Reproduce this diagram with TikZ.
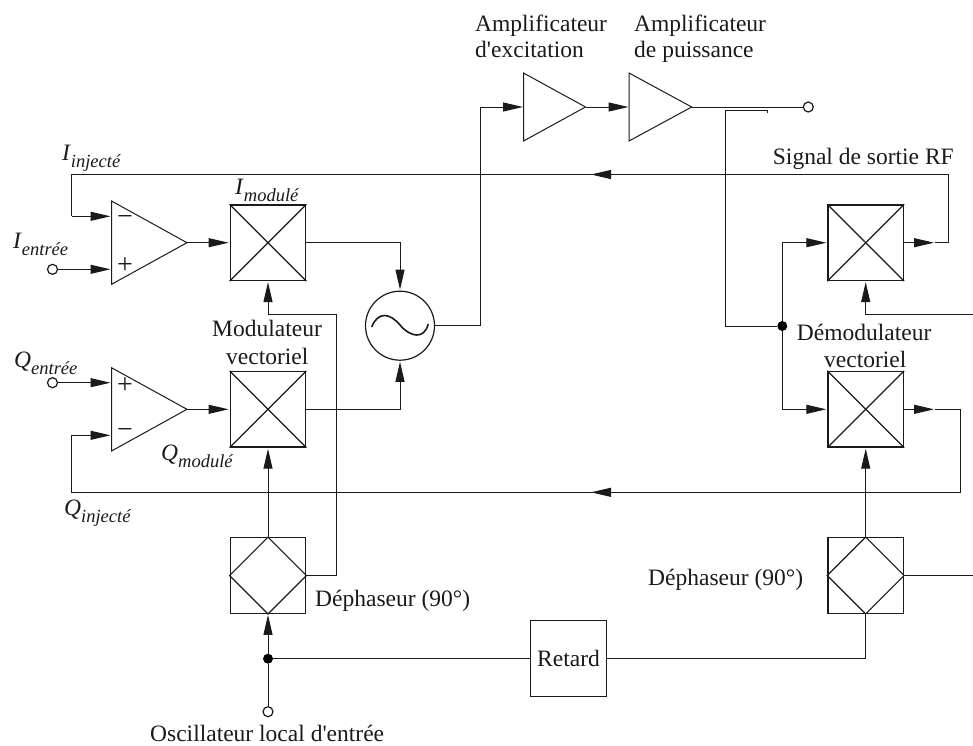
\documentclass[tikz,border=0pt]{standalone}
\usepackage{fontspec}
\setmainfont{Liberation Serif}[Ligatures=TeXOff]
\usetikzlibrary{arrows.meta,shapes.geometric,calc}
\definecolor{ink}{HTML}{1A1A1A}
\newcommand{\subs}[2]{\textit{#1}\raisebox{-7pt}{\fontsize{18.5}{20}\selectfont\textit{#2}}}
\tikzset{
  x=1pt,y=-1pt,
  every node/.style={font=\fontsize{23.5}{26}\selectfont,text=ink},
  wire/.style={draw=ink,line width=1pt},
  arrow/.style={wire,shorten >=1pt,-{Triangle[length=20pt,width=9pt]}},
  mixbox/.style={draw=ink,line width=1.3pt,minimum size=75.5pt,inner sep=0pt},
  delaybox/.style={draw=ink,line width=1pt,minimum size=75.5pt,inner sep=0pt},
  port/.style={circle,draw=ink,fill=white,line width=1.2pt,minimum size=10pt,inner sep=0pt},
  dot/.style={circle,fill=black,minimum size=10pt,inner sep=0pt},
  osc/.style={circle,draw=ink,line width=1.2pt,minimum size=69pt,inner sep=0pt},
  lab/.style={anchor=base west,inner sep=0pt},
  sign/.style={inner sep=0pt,font=\fontsize{28}{28}\selectfont},
  tri/.style={draw=ink,line width=1pt,line join=miter},
  diag/.style={draw=ink,line width=1.2pt}
}
\begin{document}
\begin{tikzpicture}
\useasboundingbox (0,0) rectangle (973,745);
% boxes
\node[mixbox] (m1) at (268,242.7) {};
\node[mixbox] (m2) at (268,409.3) {};
\node[mixbox] (d1) at (865.7,242.7) {};
\node[mixbox] (d2) at (865.7,409.3) {};
\node[mixbox] (p1) at (268,575.5) {};
\node[mixbox] (p2) at (865.7,575.5) {};
\foreach \n in {m1,m2,d1,d2}{
  \draw[diag] (\n.north west) -- (\n.south east);
  \draw[diag] (\n.south west) -- (\n.north east);
}
\foreach \n in {p1,p2}{
  \draw[diag] (\n.north) -- (\n.east) -- (\n.south) -- (\n.west) -- cycle;
}
\node[delaybox] (ret) at (568.5,658.7) {Retard};
\node[osc] (osc) at (400,325.7) {};
\draw[ink,line width=1.6pt] (371.7,327) .. controls (378,311) and (390,313) .. (400,325)
   .. controls (410,337) and (424,340) .. (428.3,324);
% triangles
\coordinate (o1t) at (111.5,201);\coordinate (o1b) at (111.5,284.3);\coordinate (o1o) at (187,242.7);
\coordinate (o2t) at (111.5,367.7);\coordinate (o2b) at (111.5,451);\coordinate (o2o) at (187,409.3);
\coordinate (a1t) at (523.5,73);\coordinate (a1b) at (523.5,141);\coordinate (a1o) at (585.5,107);
\coordinate (a2t) at (629,73);\coordinate (a2b) at (629,141);\coordinate (a2o) at (691.7,107);
\foreach \n in {o1,o2,a1,a2}{
  \draw[tri] (\n t) -- (\n o) -- (\n b) -- cycle;
}
\coordinate (o1m) at (111.5,216.3);\coordinate (o1p) at (111.5,269.3);
\coordinate (o2p) at (111.5,382.7);\coordinate (o2m) at (111.5,435.3);
\coordinate (a1i) at (524,107);\coordinate (a2i) at (629.5,107);
\node[sign] at (125,220) {−};
\node[sign] at (125,266) {+};
\node[sign] at (125,386) {+};
\node[sign] at (125,433.5) {−};
% ports and dots
\node[port] (ie) at (52.5,269.3) {};
\node[port] (qe) at (52.5,382.7) {};
\node[port] (rf) at (808.3,107) {};
\node[port] (lo) at (268,711.7) {};
\node[dot] (jl) at (268,658.7) {};
\node[dot] (jr) at (782.3,326) {};
% free ends and turning points
\coordinate (rfa) at (725.5,110.5);
\coordinate (rfb) at (767,110.5);
\coordinate (rfc) at (767,113);
\coordinate (d1o) at (935,242.7);
\coordinate (d2o) at (935,409.3);
\coordinate (ifb) at (590,174.5);
\coordinate (qfb) at (590,492.3);
\coordinate (e1) at (973,314.3);
\coordinate (e2) at (973,575.5);
% connectors
\draw[arrow] (ie) -- (o1p);
\draw[arrow] (qe) -- (o2p);
\draw[arrow] (o1o) -- (m1.west);
\draw[arrow] (o2o) -- (m2.west);
\draw[arrow] (m1.east) -| (osc.north);
\draw[arrow] (m2.east) -| (osc.south);
\draw[wire] (osc.east) -- (480,325.7) -- (480,107);
\draw[arrow] (480,107) -- (a1i);
\draw[arrow] (a1o) -- (a2i);
\draw[wire] (a2o) -- (rf);
\draw[wire] (rfc) -- (rfb) -- (rfa) |- (jr);
\draw[arrow] (jr) |- (d1.west);
\draw[arrow] (jr) |- (d2.west);
\draw[arrow] (d1.east) -- (d1o);
\draw[arrow] (d2.east) -- (d2o);
\draw[wire] (d1o) -- (948,242.7) -- (948,174.5) -- (ifb);
\draw[arrow] (948,174.5) -- (ifb);
\draw[wire] (ifb) -- (71.5,174.5) -- (71.5,216.3);
\draw[arrow] (71.5,216.3) -- (o1m);
\draw[wire] (d2o) -- (960,409.3) -- (960,492.3) -- (qfb);
\draw[arrow] (960,492.3) -- (qfb);
\draw[wire] (qfb) -- (71.5,492.3) -- (71.5,435.3);
\draw[arrow] (71.5,435.3) -- (o2m);
\draw[arrow] (p1.north) -- (m2.south);
\draw[wire] (p1.east) -- (336,575.5) -- (336,314);
\draw[arrow] (336,314) -- (268,314) -- (m1.south);
\draw[arrow] (jl) -- (p1.south);
\draw[wire] (lo) -- (jl);
\draw[wire] (jl) -- (ret.west);
\draw[wire] (ret.east) -| (p2.south);
\draw[arrow] (p2.north) -- (d2.south);
\draw[wire] (p2.east) -- (e2);
\draw[arrow] (e1) -- (865.7,314.3) -- (d1.south);
% labels
\node[lab] (t1) at (475,31) {Amplificateur};
\node[lab] (t2) at (475,57) {d'excitation};
\node[lab] (t3) at (634,31) {Amplificateur};
\node[lab] (t4) at (634,57) {de puissance};
\node[lab] (t5) at (772.7,164) {Signal de sortie RF};
\node[lab] (t6) at (796.7,340) {Démodulateur};
\node[lab] (t7) at (824,367) {vectoriel};
\node[lab] (t8) at (212,336.7) {Modulateur};
\node[lab] (t9) at (226,364) {vectoriel};
\node[lab] (t10) at (315,606.7) {Déphaseur (90°)};
\node[lab] (t11) at (648,585) {Déphaseur (90°)};
\node[lab] (t12) at (150,741.7) {Oscillateur local d'entrée};
\node[lab] (s1) at (62,160) {\subs{I}{injecté}};
\node[lab] (s2) at (235,194) {\subs{I}{modulé}};
\node[lab] (s3) at (13,248) {\subs{I}{entrée}};
\node[lab] (s4) at (14,367) {\subs{Q}{entrée}};
\node[lab] (s5) at (161,460) {\subs{Q}{modulé}};
\node[lab] (s6) at (64,515) {\subs{Q}{injecté}};
\end{tikzpicture}
\end{document}
